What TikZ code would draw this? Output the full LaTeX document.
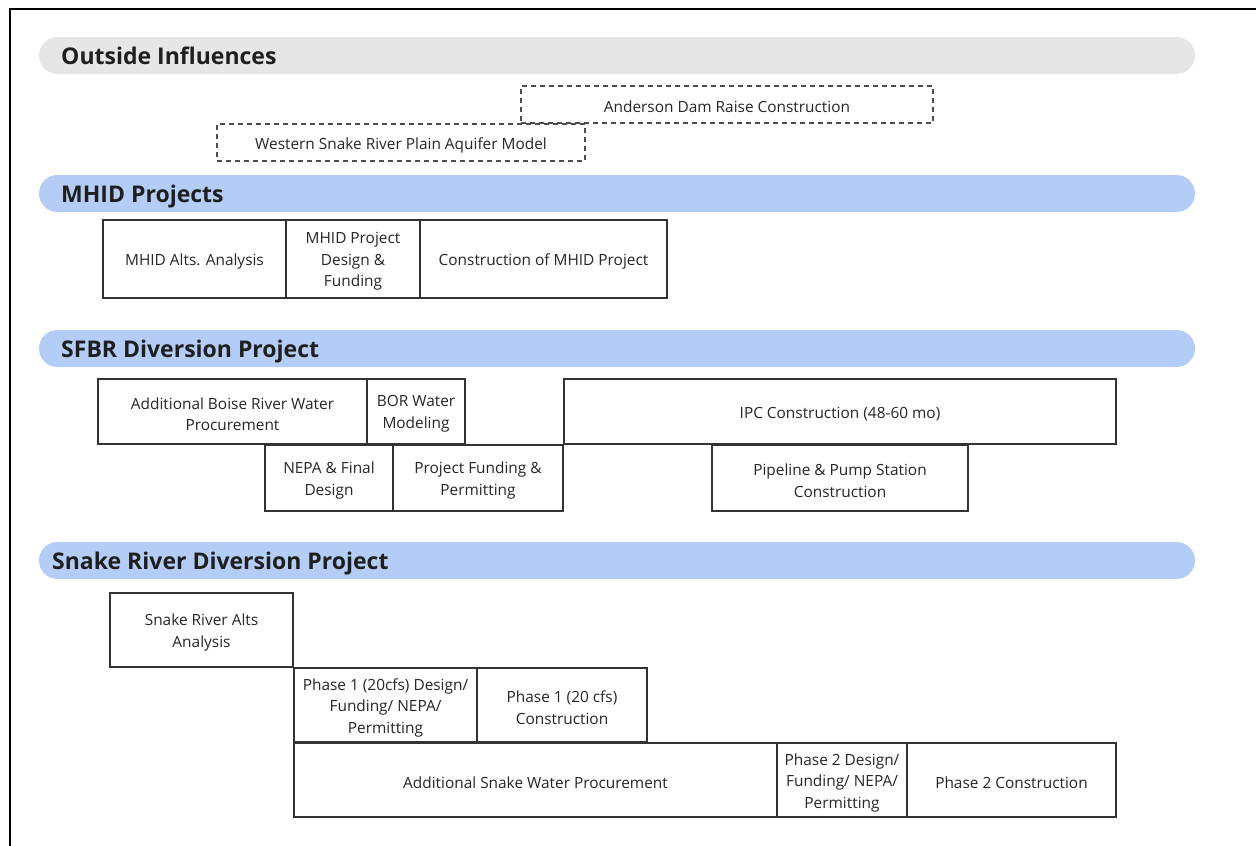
\documentclass[tikz,border=0pt]{standalone}
\usepackage{fontspec}
\setmainfont{Open Sans}
\definecolor{barblue}{HTML}{B3CDF6}
\definecolor{bargray}{HTML}{E6E6E6}
\definecolor{boxline}{HTML}{333333}
\definecolor{txt}{HTML}{262626}
\begin{document}
\begin{tikzpicture}[x=1pt,y=-1pt,
  bar/.style={rounded corners=18.5pt, line width=0pt},
  hdr/.style={anchor=base west, inner sep=0pt, font=\fontsize{23}{27}\selectfont\bfseries, text=black!88},
  lbl/.style={align=center, text=txt, inner sep=0pt, yshift=-2.5pt, font=\fontsize{15.4}{21.5}\selectfont},
  tbox/.style={draw=boxline, line width=1.3pt, rectangle, anchor=north west, inner sep=0pt, outer sep=0pt, label={[lbl]center:#1}},
  dbox/.style={tbox=#1, draw=black!70, dash pattern=on 5pt off 4pt, line width=1.2pt}
]
\useasboundingbox (0,0) rectangle (1256,846);
\fill[white] (0,0) rectangle (1256,846);
% frame
\draw[line width=2pt, black] (10,847) -- (10,9) -- (1257,9);
% header bars
\fill[bargray, bar] (39,37) rectangle (1195,74);
\node[hdr] (h1) at (61,64) {Outside Influences};
\fill[barblue, bar] (39,175) rectangle (1195,212);
\node[hdr] (h2) at (61,202) {MHID Projects};
\fill[barblue, bar] (39,330) rectangle (1195,367);
\node[hdr] (h3) at (61,357) {SFBR Diversion Project};
\fill[barblue, bar] (39,542) rectangle (1195,579);
\node[hdr] (h4) at (52,569) {Snake River Diversion Project};
% outside influences
\node[dbox={Anderson Dam Raise Construction}, minimum width=412pt, minimum height=37pt] (and) at (521,86) {};
\node[dbox={Western Snake River Plain Aquifer Model}, minimum width=368pt, minimum height=37pt] (wsr) at (217,124) {};
% MHID
\node[tbox={MHID Alts. Analysis}, minimum width=183pt, minimum height=78pt] (m1) at (103,220) {};
\node[tbox={MHID Project\\Design \&\\Funding}, minimum width=134pt, minimum height=78pt] (m2) at (286,220) {};
\node[tbox={Construction of MHID Project}, minimum width=247pt, minimum height=78pt] (m3) at (420,220) {};
% SFBR
\node[tbox={Additional Boise River Water\\Procurement}, minimum width=269pt, minimum height=65pt] (s1) at (98,379) {};
\node[tbox={BOR Water\\Modeling}, minimum width=98pt, minimum height=65pt] (s2) at (367,379) {};
\node[tbox={NEPA \& Final\\Design}, minimum width=128pt, minimum height=66pt] (s3) at (265,445) {};
\node[tbox={Project Funding \&\\Permitting}, minimum width=170pt, minimum height=66pt] (s4) at (393,445) {};
\node[tbox={IPC Construction (48-60 mo)}, minimum width=552pt, minimum height=65pt] (s5) at (564,379) {};
\node[tbox={Pipeline \& Pump Station\\Construction}, minimum width=256pt, minimum height=66pt] (s6) at (712,445) {};
% Snake River
\node[tbox={Snake River Alts\\Analysis}, minimum width=183pt, minimum height=74pt] (r1) at (110,593) {};
\node[tbox={Phase 1 (20cfs) Design/\\Funding/ NEPA/\\Permitting}, minimum width=183pt, minimum height=74pt] (r2) at (294,668) {};
\node[tbox={Phase 1 (20 cfs)\\Construction}, minimum width=170pt, minimum height=74pt] (r3) at (477,668) {};
\node[tbox={Additional Snake Water Procurement}, minimum width=483pt, minimum height=74pt] (r4) at (294,743) {};
\node[tbox={Phase 2 Design/\\Funding/ NEPA/\\Permitting}, minimum width=130pt, minimum height=74pt] (r5) at (777,743) {};
\node[tbox={Phase 2 Construction}, minimum width=209pt, minimum height=74pt] (r6) at (907,743) {};
\end{tikzpicture}
\end{document}
